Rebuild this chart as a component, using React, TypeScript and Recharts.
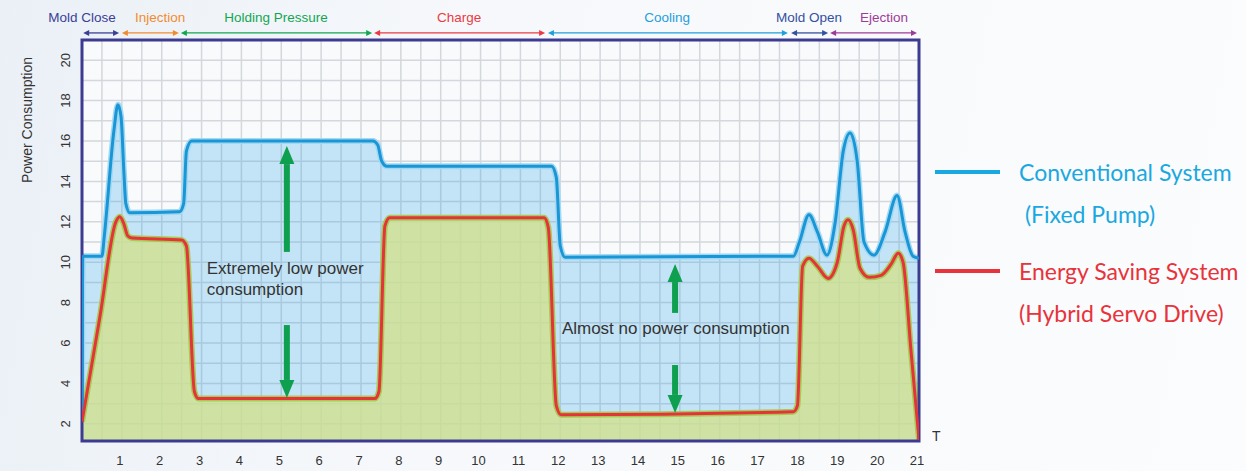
import React from 'react';
import {
  ComposedChart,
  Area,
  Line,
  XAxis,
  YAxis,
  CartesianGrid,
  ReferenceLine,
  ReferenceDot,
  ReferenceArea,
  Label,
} from 'recharts';

// [time, power]
const conventionalPoints: [number, number][] = [
  [0, 2.2], [0.02, 10.3], [0.5, 10.3], [0.56, 11.3], [0.8, 16.5], [0.9, 17.8], [0.98, 17.2],
  [1.05, 14.5], [1.1, 12.9], [1.2, 12.45], [2.45, 12.5], [2.55, 12.9], [2.62, 15.5], [2.75, 16.0],
  [7.3, 16.0], [7.42, 15.8], [7.52, 15.0], [7.65, 14.75], [11.78, 14.75], [11.9, 14.2], [12.0, 10.8],
  [12.12, 10.25], [17.85, 10.3], [18.0, 11.0], [18.24, 12.35], [18.45, 11.5], [18.69, 10.35],
  [18.9, 12.0], [19.1, 15.5], [19.27, 16.4], [19.45, 15.0], [19.62, 11.0], [19.87, 10.35],
  [20.15, 11.5], [20.45, 13.3], [20.65, 11.5], [20.85, 10.3], [21, 10.2],
];

const savingPoints: [number, number][] = [
  [0, 2.1], [0.45, 7.3], [0.85, 12.0], [0.95, 12.25], [1.05, 11.9], [1.15, 11.3], [1.25, 11.2],
  [2.5, 11.1], [2.62, 10.8], [2.82, 3.6], [2.92, 3.25], [7.35, 3.25], [7.45, 3.6], [7.6, 11.8],
  [7.72, 12.2], [11.6, 12.2], [11.7, 11.7], [11.9, 2.9], [12.02, 2.45], [17.85, 2.6], [17.95, 2.9],
  [18.08, 9.8], [18.24, 10.2], [18.45, 9.8], [18.72, 9.2], [18.95, 10.0], [19.12, 11.8],
  [19.22, 12.1], [19.35, 11.6], [19.52, 9.7], [19.75, 9.25], [20.05, 9.35], [20.3, 9.9],
  [20.48, 10.45], [20.6, 10.0], [20.8, 5.6], [21, 1.2],
];

const phases = [
  { name: 'Mold Close', start: 0.03, end: 0.93, labelX: 0, color: '#3b3f96' },
  { name: 'Injection', start: 1.0, end: 2.43, labelX: 1.96, color: '#f28b30' },
  { name: 'Holding Pressure', start: 2.48, end: 7.28, labelX: 4.87, color: '#13a651' },
  { name: 'Charge', start: 7.33, end: 11.62, labelX: 9.46, color: '#ea3b43' },
  { name: 'Cooling', start: 11.69, end: 17.71, labelX: 14.68, color: '#1f9fdc' },
  { name: 'Mold Open', start: 17.79, end: 18.72, labelX: 18.24, color: '#34509f' },
  { name: 'Ejection', start: 18.77, end: 20.95, labelX: 20.12, color: '#9e3b98' },
];

const notes = [
  { x: 3.13, y: 9.71, lines: ['Extremely low power', 'consumption'] },
  { x: 12.04, y: 6.74, lines: ['Almost no power consumption'] },
];

const savingArrows = [
  { x: 5.14, from: 10.51, to: 15.75 },
  { x: 5.14, from: 6.89, to: 3.28 },
  { x: 14.88, from: 7.49, to: 9.91 },
  { x: 14.88, from: 4.91, to: 2.54 },
];

const xTickLabels = [1, 2, 3, 4, 5, 6, 7, 8, 9, 10, 11, 12, 13, 14, 15, 16, 17, 18, 19, 20, 21];
const yTickLabels = [2, 4, 6, 8, 10, 12, 14, 16, 18, 20];
const xGrid = Array.from({ length: 43 }, (_, i) => i / 2);
const yGrid = Array.from({ length: 20 }, (_, i) => i + 2);

const legend = [
  { lines: ['Conventional System', '\u00a0(Fixed Pump)'], color: '#1aa8e0', top: 159 },
  { lines: ['Energy Saving System', '(Hybrid Servo Drive)'], color: '#e8333b', top: 258 },
];

const conventional = conventionalPoints.map(([t, p]) => ({ t, p }));
const saving = savingPoints.map(([t, p]) => ({ t, p }));

const FONT = '"Liberation Sans", Arial, sans-serif';
const PHASE_ARROW_Y = 21.35;
const PHASE_LABEL_Y = 22.09;

const XTick = ({ x, y, payload }: any) =>
  xTickLabels.includes(payload.value) ? (
    <text x={x - 2} y={y + 11} textAnchor="middle" dominantBaseline="central" fontSize={13} fill="#333" fontFamily={FONT}>
      {payload.value}
    </text>
  ) : (
    <g />
  );

const YTick = ({ x, y, payload }: any) =>
  yTickLabels.includes(payload.value) ? (
    <text
      x={x - 8}
      y={y}
      transform={`rotate(-90 ${x - 8} ${y})`}
      textAnchor="middle"
      dominantBaseline="central"
      fontSize={13}
      fill="#333"
      fontFamily={FONT}
    >
      {payload.value}
    </text>
  ) : (
    <g />
  );

const PhaseArrow = ({ x1, y1, x2, stroke }: any) => (
  <g>
    <line x1={x1 + 3} y1={y1} x2={x2 - 3} y2={y1} stroke={stroke} strokeWidth={1.3} />
    <polygon points={`${x1},${y1} ${x1 + 6},${y1 - 3} ${x1 + 6},${y1 + 3}`} fill={stroke} />
    <polygon points={`${x2},${y1} ${x2 - 6},${y1 - 3} ${x2 - 6},${y1 + 3}`} fill={stroke} />
  </g>
);

const GreenArrow = ({ x1, y1, y2 }: any) => {
  const dir = y2 > y1 ? 1 : -1;
  const headBase = y2 - dir * 18;
  return (
    <g fill="#0fa04f">
      <rect x={x1 - 3} y={Math.min(y1, headBase)} width={6} height={Math.abs(headBase - y1)} />
      <polygon points={`${x1 - 7.5},${headBase} ${x1 + 7.5},${headBase} ${x1},${y2}`} />
    </g>
  );
};

export default function App() {
  return (
    <div
      style={{
        position: 'relative',
        width: 1246,
        height: 471,
        background: 'linear-gradient(100deg, #eaf0f6 0%, #f6f8fb 35%, #fbfcfd 100%)',
        overflow: 'hidden',
      }}
    >
      <style>{'body{margin:0}'}</style>
      <ComposedChart width={1246} height={471} margin={{ top: 40, right: 327, bottom: 0, left: 0 }}>
        <CartesianGrid stroke="#d4d7db" strokeWidth={1.5} fill="#f8fafc" />
        <XAxis
          type="number"
          dataKey="t"
          domain={[0, 21]}
          ticks={xGrid}
          interval={0}
          allowDataOverflow
          axisLine={false}
          tickLine={false}
          height={30}
          tick={<XTick />}
        >
          <Label value="T" position="right" dx={8} dy={-20} fontSize={14} fill="#333" fontFamily={FONT} />
        </XAxis>
        <YAxis
          type="number"
          domain={[1.15, 21]}
          ticks={yGrid}
          interval={0}
          allowDataOverflow
          axisLine={false}
          tickLine={false}
          width={82}
          tick={<YTick />}
        >
          <Label
            content={({ viewBox }: any) => (
              <text
                x={viewBox.x + 27}
                y={viewBox.y + 80}
                transform={`rotate(-90 ${viewBox.x + 27} ${viewBox.y + 80})`}
                textAnchor="middle"
                dominantBaseline="central"
                fontSize={14}
                fill="#333"
                fontFamily={FONT}
              >
                Power Consumption
              </text>
            )}
          />
        </YAxis>

        <Area
          data={conventional}
          dataKey="p"
          type="monotone"
          stroke="#a3d8f3"
          strokeWidth={6}
          fill="#39a9e6"
          fillOpacity={0.28}
          isAnimationActive={false}
          activeDot={false}
        />
        <Line
          data={conventional}
          dataKey="p"
          type="monotone"
          stroke="#1896d5"
          strokeWidth={3}
          dot={false}
          activeDot={false}
          isAnimationActive={false}
        />
        <Area
          data={saving}
          dataKey="p"
          type="monotone"
          stroke="#a8ca55"
          strokeWidth={6}
          fill="#d2e28d"
          fillOpacity={0.78}
          isAnimationActive={false}
          activeDot={false}
        />
        <Line
          data={saving}
          dataKey="p"
          type="monotone"
          stroke="#e6333b"
          strokeWidth={3}
          dot={false}
          activeDot={false}
          isAnimationActive={false}
        />

        {savingArrows.map((a, i) => (
          <ReferenceLine
            key={`sa${i}`}
            segment={[{ x: a.x, y: a.from }, { x: a.x, y: a.to }]}
            ifOverflow="visible"
            shape={(p: any) => <GreenArrow {...p} />}
          />
        ))}
        {notes.map((n, i) => (
          <ReferenceDot
            key={`n${i}`}
            x={n.x}
            y={n.y}
            ifOverflow="visible"
            shape={(p: any) => (
              <text x={p.cx} y={p.cy} fontSize={17} fill="#333" fontFamily={FONT} dominantBaseline="central">
                {n.lines.map((l, j) => (
                  <tspan key={j} x={p.cx} dy={j === 0 ? 0 : 21}>
                    {l}
                  </tspan>
                ))}
              </text>
            )}
          />
        ))}

        <ReferenceArea
          x1={0}
          x2={21}
          y1={1.15}
          y2={21}
          ifOverflow="visible"
          fill="none"
          stroke="#3d3a92"
          strokeWidth={3}
        />

        {phases.map((ph) => (
          <ReferenceLine
            key={`pa${ph.name}`}
            segment={[{ x: ph.start, y: PHASE_ARROW_Y }, { x: ph.end, y: PHASE_ARROW_Y }]}
            ifOverflow="visible"
            stroke={ph.color}
            shape={(p: any) => <PhaseArrow {...p} />}
          />
        ))}
        {phases.map((ph) => (
          <ReferenceDot
            key={`pl${ph.name}`}
            x={ph.labelX}
            y={PHASE_LABEL_Y}
            ifOverflow="visible"
            shape={(p: any) => (
              <text
                x={p.cx}
                y={p.cy}
                textAnchor="middle"
                dominantBaseline="central"
                fontSize={13.5}
                fill={ph.color}
                fontFamily={FONT}
              >
                {ph.name}
              </text>
            )}
          />
        ))}
      </ComposedChart>

      {legend.map((l) => (
        <React.Fragment key={l.lines[0]}>
          <div
            style={{ position: 'absolute', left: 935, top: l.top + 11, width: 65, height: 4, background: l.color }}
          />
          {l.lines.map((txt, j) => (
            <div
              key={txt}
              style={{
                position: 'absolute',
                left: 1019,
                top: l.top + j * 42,
                lineHeight: '26px',
                fontSize: 23,
                fontFamily: 'Lato, "Open Sans", sans-serif',
                color: l.color,
                whiteSpace: 'pre',
              }}
            >
              {txt}
            </div>
          ))}
        </React.Fragment>
      ))}
    </div>
  );
}
